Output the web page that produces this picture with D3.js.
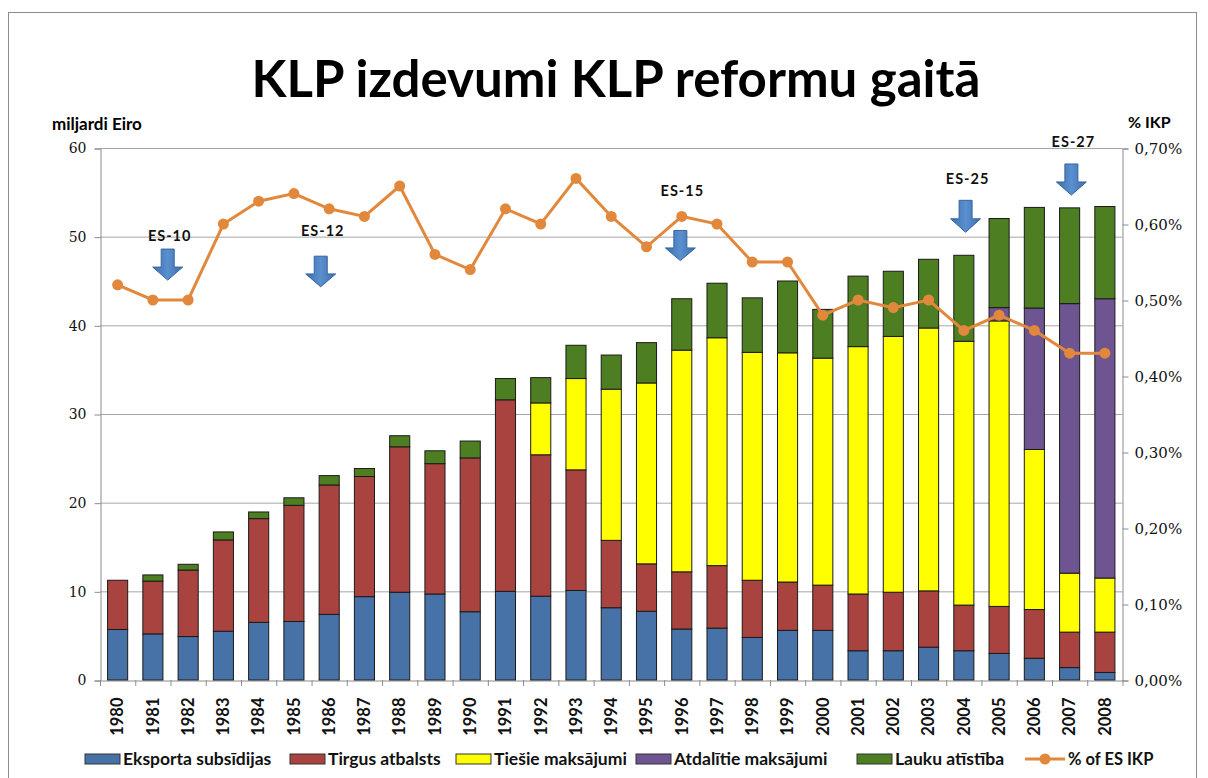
<!DOCTYPE html>
<html>
<head>
<meta charset="utf-8">
<script src="https://cdn.jsdelivr.net/npm/d3@7"></script>
<style>
  body { margin: 0; background: #fff; }
  text { font-family: Lato, "Open Sans", sans-serif; }
</style>
</head>
<body>
<svg width="1208" height="778"></svg>
<script>
// categories
const years = ["1980","1981","1982","1983","1984","1985","1986","1987","1988","1989",
  "1990","1991","1992","1993","1994","1995","1996","1997","1998","1999",
  "2000","2001","2002","2003","2004","2005","2006","2007","2008"];

// series, miljardi Eiro
const eksporta = [5.7,5.2,4.9,5.5,6.5,6.6,7.4,9.4,9.9,9.7,7.7,10.0,9.45,10.1,8.15,7.75,5.75,5.85,4.8,5.6,5.6,3.3,3.3,3.7,3.3,3.0,2.45,1.4,0.85];
const tirgus = [5.55,5.95,7.5,10.3,11.7,13.1,14.6,13.55,16.4,14.7,17.35,21.6,15.95,13.6,7.6,5.35,6.45,7.05,6.45,5.45,5.1,6.4,6.6,6.35,5.15,5.3,5.5,4.0,4.55];
const tiesie = [0,0,0,0,0,0,0,0,0,0,0,0,5.85,10.3,17.05,20.4,25.0,25.7,25.7,25.85,25.6,27.9,28.85,29.65,29.75,32.2,18.05,6.65,6.1];
const atdalitie = [0,0,0,0,0,0,0,0,0,0,0,0,0,0,0,0,0,0,0,0,0,0,0,0,0,1.5,15.95,30.4,31.5];
const lauku = [0,0.7,0.65,0.9,0.75,0.85,1.05,0.9,1.25,1.45,1.9,2.4,2.85,3.75,3.85,4.55,5.8,6.15,6.15,8.1,5.5,7.95,7.35,7.75,9.7,10.05,11.35,10.8,10.4];

// % of ES IKP
const pctIKP = [0.52,0.50,0.50,0.60,0.63,0.64,0.62,0.61,0.65,0.56,0.54,0.62,0.60,0.66,0.61,0.57,0.61,0.60,0.55,0.55,0.48,0.50,0.49,0.50,0.46,0.48,0.46,0.43,0.43];

// tick values
const leftTicks = [0,10,20,30,40,50,60];
const rightTicks = [0,0.1,0.2,0.3,0.4,0.5,0.6,0.7];

// enlargement markers (position in categories, heights in miljardi Eiro)
const enlargeLabels = ["ES-10","ES-12","ES-15","ES-25","ES-27"];
const enlargePos = [1.42,5.76,15.96,24.05,27.05];
const enlargeTextY = [50.1,50.7,55.2,56.5,60.7];
const enlargeTop = [48.6,47.8,50.7,54.1,58.2];
const enlargeBottom = [45.1,44.35,47.3,50.5,54.7];

const seriesNames = ["Eksporta subsīdijas","Tirgus atbalsts","Tiešie maksājumi","Atdalītie maksājumi","Lauku atīstība"];
const seriesColors = ["#4672a8","#a9433f","#ffff00","#6e5591","#4e7e22"];
const lineColor = "#e2883c";

const svg = d3.select("svg");

const plotLeft = 100, plotRight = 1122.5, plotTop = 148, plotBottom = 680;

// frame
svg.append("rect")
  .attr("x", 8.5).attr("y", 12.5)
  .attr("width", 1188).attr("height", 800)
  .attr("fill", "#fff").attr("stroke", "#8c8c8c");

svg.append("text")
  .attr("x", 616).attr("y", 97)
  .attr("text-anchor", "middle")
  .style("font-size", "51px").style("font-weight", "bold")
  .text("KLP izdevumi KLP reformu gaitā");

const x = d3.scaleBand().domain(years).range([plotLeft, plotRight])
  .paddingInner(0.43).paddingOuter(0.215);
const y = d3.scaleLinear().domain([0, 60]).range([plotBottom, plotTop]);
const y2 = d3.scaleLinear().domain([0, 0.7]).range([plotBottom, plotTop]);

// gridlines
svg.append("g")
  .selectAll("line")
  .data(leftTicks.slice(1))
  .join("line")
  .attr("x1", plotLeft).attr("x2", plotRight)
  .attr("y1", d => y(d) + 0.5).attr("y2", d => y(d) + 0.5)
  .attr("stroke", "#a6a6a6");

// left axis
const gLeft = svg.append("g")
  .attr("transform", `translate(${plotLeft + 0.5},0.5)`)
  .call(d3.axisLeft(y).tickValues(leftTicks).tickSize(6).tickPadding(8));
gLeft.selectAll("path, line").attr("stroke", "#8c8c8c");
gLeft.selectAll("text")
  .style("font-family", "'DejaVu Serif', serif").style("font-size", "14px").attr("fill", "#111");

// right axis
const gRight = svg.append("g")
  .attr("transform", `translate(${plotRight},0.5)`)
  .call(d3.axisRight(y2).tickValues(rightTicks).tickSize(6).tickPadding(6)
    .tickFormat(d => d3.format(".2f")(d).replace(".", ",") + "%"));
gRight.selectAll("path, line").attr("stroke", "#8c8c8c");
gRight.selectAll("text")
  .style("font-family", "'DejaVu Serif', serif").style("font-size", "15px").attr("fill", "#111");

// bottom axis
const gBottom = svg.append("g")
  .attr("transform", `translate(0,${plotBottom + 0.5})`)
  .call(d3.axisBottom(x).tickSize(0).tickPadding(10));
gBottom.select("path").attr("stroke", "#8c8c8c");
gBottom.selectAll("text")
  .attr("transform", "rotate(-90)")
  .attr("x", -17).attr("y", 0).attr("dy", "0.35em")
  .attr("text-anchor", "end")
  .style("font-size", "16.5px").style("font-weight", "bold").attr("fill", "#111");
// category boundary ticks
svg.append("g")
  .selectAll("line")
  .data(d3.range(years.length + 1))
  .join("line")
  .attr("x1", i => plotLeft + i * x.step() + 0.5).attr("x2", i => plotLeft + i * x.step() + 0.5)
  .attr("y1", plotBottom).attr("y2", plotBottom + 6)
  .attr("stroke", "#8c8c8c");

// axis titles
svg.append("text").attr("x", 52).attr("y", 130)
  .style("font-size", "17px").style("font-weight", "bold").text("miljardi Eiro");
svg.append("text").attr("x", 1128).attr("y", 128)
  .style("font-size", "16px").style("font-weight", "bold").text("% IKP");

// stacked bars
const table = years.map((yr, i) => ({
  year: yr, s0: eksporta[i], s1: tirgus[i], s2: tiesie[i], s3: atdalitie[i], s4: lauku[i]
}));
const stack = d3.stack().keys(["s0","s1","s2","s3","s4"])(table);

svg.append("g")
  .selectAll("g")
  .data(stack)
  .join("g")
  .attr("fill", (d, i) => seriesColors[i])
  .selectAll("rect")
  .data(d => d.filter(p => p[1] - p[0] > 0))
  .join("rect")
  .attr("x", d => x(d.data.year))
  .attr("y", d => y(d[1]))
  .attr("width", x.bandwidth())
  .attr("height", d => y(d[0]) - y(d[1]))
  .attr("stroke", "#1a1a1a")
  .attr("stroke-width", 1);

// % line
const cx = (d, i) => x(years[i]) + x.bandwidth() / 2;
svg.append("path")
  .datum(pctIKP)
  .attr("fill", "none")
  .attr("stroke", lineColor)
  .attr("stroke-width", 3)
  .attr("d", d3.line().x(cx).y(d => y2(d)));
svg.append("g")
  .selectAll("circle")
  .data(pctIKP)
  .join("circle")
  .attr("cx", cx)
  .attr("cy", d => y2(d))
  .attr("r", 5.5)
  .attr("fill", lineColor);

// enlargement arrows
const posX = d3.scaleLinear().domain([0, 1])
  .range([x(years[0]) + x.bandwidth() / 2, x(years[1]) + x.bandwidth() / 2]);
const arrowPath = (cxp, y0, y1) => {
  const hw = 15, sw = 6.5, head = (y1 - y0) * 0.42;
  return `M${cxp - sw},${y0} L${cxp + sw},${y0} L${cxp + sw},${y1 - head} L${cxp + hw},${y1 - head}
    L${cxp},${y1} L${cxp - hw},${y1 - head} L${cxp - sw},${y1 - head} Z`;
};
const defs = svg.append("defs");
const grad = defs.append("linearGradient").attr("id", "arrowFill")
  .attr("x1", 0).attr("x2", 1).attr("y1", 0).attr("y2", 0);
grad.append("stop").attr("offset", "0%").attr("stop-color", "#3d6fae");
grad.append("stop").attr("offset", "50%").attr("stop-color", "#5a8fd0");
grad.append("stop").attr("offset", "100%").attr("stop-color", "#3d6fae");

const ann = svg.append("g");
ann.selectAll("path")
  .data(enlargeLabels)
  .join("path")
  .attr("d", (d, i) => arrowPath(posX(enlargePos[i]), y(enlargeTop[i]), y(enlargeBottom[i])))
  .attr("fill", "url(#arrowFill)")
  .attr("stroke", "#36649c")
  .attr("stroke-width", 1);
ann.selectAll("text")
  .data(enlargeLabels)
  .join("text")
  .attr("x", (d, i) => posX(enlargePos[i]) + 2)
  .attr("y", (d, i) => y(enlargeTextY[i]))
  .attr("dy", "0.35em")
  .attr("text-anchor", "middle")
  .style("font-size", "14.5px").style("font-weight", "bold").style("letter-spacing", "1px")
  .attr("fill", "#111")
  .text(d => d);

// legend
const legendX = [85, 290, 456, 636, 857];
const legY = 759;
const leg = svg.append("g");
seriesNames.forEach((name, i) => {
  leg.append("rect")
    .attr("x", legendX[i]).attr("y", legY - 5)
    .attr("width", 35).attr("height", 10)
    .attr("fill", seriesColors[i]).attr("stroke", "#333");
  leg.append("text")
    .attr("x", legendX[i] + 38).attr("y", legY).attr("dy", "0.35em")
    .style("font-size", "17.5px").style("font-weight", "bold").attr("fill", "#111")
    .text(name);
});
leg.append("line")
  .attr("x1", 1025).attr("x2", 1065).attr("y1", legY).attr("y2", legY)
  .attr("stroke", lineColor).attr("stroke-width", 3);
leg.append("circle").attr("cx", 1045).attr("cy", legY).attr("r", 5.5).attr("fill", lineColor);
leg.append("text")
  .attr("x", 1068).attr("y", legY).attr("dy", "0.35em")
  .style("font-size", "16.5px").style("font-weight", "bold").attr("fill", "#111")
  .text("% of ES IKP");
</script>
</body>
</html>
